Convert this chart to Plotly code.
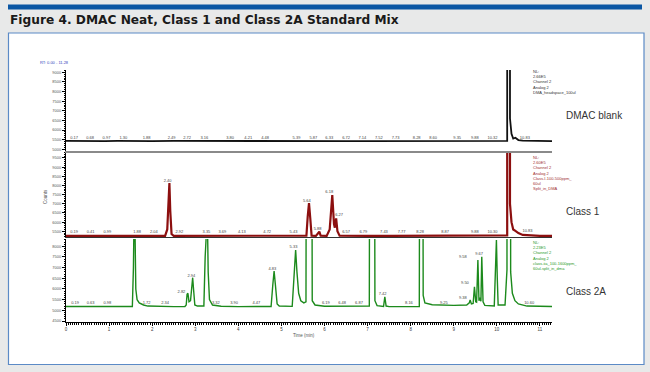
import plotly.graph_objects as go

W, H = 650, 372

# ---------------- data ----------------
# Panel "DMAC blank" trace (time in min, counts)
blank_t = [0.00, 0.30, 0.60, 0.90, 1.20, 1.50, 2.00, 2.50, 3.00, 3.50, 4.00, 4.50, 5.00,
           5.50, 6.00, 6.50, 7.00, 7.50, 8.00, 8.50, 9.00, 9.50, 10.00, 10.24, 10.255,
           10.275, 10.295, 10.305, 10.34, 10.38, 10.43, 10.50, 10.60, 10.80, 11.00, 11.28]
blank_y = [5440, 5430, 5450, 5430, 5440, 5425, 5430, 5435, 5430, 5425, 5430, 5435, 5430,
           5430, 5425, 5430, 5430, 5435, 5430, 5430, 5425, 5430, 5430, 5440, 266000,
           150000, 266000, 6600, 5800, 5560, 5600, 5480, 5450, 5440, 5430, 5430]
blank_lbl_t = [0.19, 0.56, 0.94, 1.33, 1.87, 2.45, 2.81, 3.21, 3.81, 4.23, 4.62, 5.35, 5.74,
               6.11, 6.50, 6.88, 7.26, 7.65, 8.14, 8.52, 9.08, 9.49, 9.90, 10.65]
blank_lbl_y = [5610] * 24
blank_lbl = ["0.17", "0.68", "0.97", "1.30", "1.88", "2.49", "2.72", "3.16", "3.80", "4.21",
             "4.48", "5.39", "5.87", "6.33", "6.72", "7.14", "7.52", "7.73", "8.28", "8.60",
             "9.35", "9.88", "10.32", "10.83"]

# Panel "Class 1" trace
c1_t = [0.00, 0.50, 1.00, 1.50, 2.00, 2.30, 2.35, 2.38, 2.40, 2.42, 2.45, 2.50, 3.00, 3.50,
        4.00, 4.50, 5.00, 5.50, 5.58, 5.61, 5.64, 5.67, 5.70, 5.80, 5.85, 5.88, 5.91, 6.05,
        6.12, 6.15, 6.18, 6.22, 6.24, 6.27, 6.30, 6.35, 6.50, 7.00, 7.50, 8.00, 8.50, 9.00,
        9.50, 10.00, 10.24, 10.255, 10.275, 10.295, 10.305, 10.34, 10.38, 10.43, 10.50,
        10.60, 10.80, 11.00, 11.28]
c1_y = [5250, 5255, 5250, 5250, 5255, 5250, 5600, 7600, 8136, 6600, 5350, 5250, 5255, 5250,
        5250, 5255, 5250, 5255, 5260, 6300, 7045, 6200, 5260, 5250, 5380, 5479, 5260, 5250,
        5600, 6900, 7481, 5900, 5700, 6210, 5500, 5260, 5250, 5255, 5250, 5250, 5255, 5250,
        5255, 5255, 5280, 260000, 150000, 260000, 7000, 6000, 5600, 5520, 5400, 5300, 5260,
        5255, 5250]
c1_lbl_t = [0.19, 0.57, 0.96, 1.65, 2.04, 2.36, 2.63, 3.26, 3.63, 4.08, 4.67, 5.28, 5.59,
            5.84, 6.11, 6.34, 6.50, 6.90, 7.38, 7.79, 8.22, 8.80, 9.49, 9.90, 10.71]
c1_lbl_y = [5463, 5463, 5463, 5463, 5463, 8262, 5463, 5463, 5463, 5463, 5463, 5463, 7171,
            5610, 7629, 6374, 5463, 5463, 5463, 5463, 5463, 5463, 5463, 5463, 5518]
c1_lbl = ["0.19", "0.41", "0.99", "1.88", "2.04", "2.40", "2.92", "3.35", "3.69", "4.13",
          "4.72", "5.43", "5.64", "5.88", "6.18", "6.27", "6.57", "6.79", "7.43", "7.77",
          "8.28", "8.87", "9.88", "10.30", "10.83"]

# Panel "Class 2A" trace
c2_t = [0.00, 0.50, 1.00, 1.50, 1.54, 1.565, 1.58, 1.60, 1.62, 1.65, 1.70, 1.80, 1.90, 2.50,
        2.76, 2.79, 2.81, 2.83, 2.855, 2.89, 2.92, 2.94, 2.96, 2.99, 3.05, 3.20, 3.23, 3.25,
        3.28, 3.30, 3.33, 3.40, 3.60, 4.00, 4.50, 4.76, 4.80, 4.83, 4.86, 4.90, 4.95, 5.25,
        5.29, 5.33, 5.36, 5.40, 5.45, 5.52, 5.57, 5.59, 5.64, 5.69, 5.715, 5.78, 6.00, 6.50,
        7.00, 7.04, 7.06, 7.10, 7.145, 7.17, 7.22, 7.37, 7.40, 7.43, 7.50, 8.00, 8.20, 8.225,
        8.25, 8.27, 8.29, 8.33, 8.50, 9.00, 9.30, 9.36, 9.38, 9.41, 9.45, 9.48, 9.51, 9.53,
        9.56, 9.585, 9.61, 9.63, 9.65, 9.68, 9.72, 9.94, 9.97, 9.99, 10.01, 10.03, 10.19,
        10.22, 10.235, 10.25, 10.27, 10.30, 10.32, 10.36, 10.42, 10.50, 10.70, 11.00, 11.28]
c2_y = [5180, 5175, 5180, 5175, 5180, 7000, 9500, 9000, 6000, 5500, 5350, 5250, 5200, 5175,
        5180, 5250, 5750, 5798, 5400, 5450, 6200, 6529, 6000, 5250, 5200, 5200, 7500, 9500,
        9500, 6800, 5500, 5250, 5190, 5175, 5175, 5180, 6200, 6843, 6200, 5300, 5200, 5185,
        6500, 7827, 6800, 5800, 5450, 5350, 5400, 30000, 15000, 30000, 5450, 5250, 5190, 5180,
        5180, 5200, 30000, 15000, 30000, 5450, 5220, 5180, 5637, 5200, 5175, 5175, 5180, 30000,
        18000, 30000, 5700, 5350, 5260, 5230, 5250, 5350, 5482, 5300, 5320, 6105, 5400, 5380,
        7356, 5450, 5590, 5420, 7512, 5400, 5230, 5200, 7800, 8295, 6500, 5250, 5250,
        6600, 6900, 223000, 120000, 223000, 6800, 5800, 5450, 5300, 5200, 5180, 5180]
c2_lbl_t = [0.21, 0.57, 0.96, 1.87, 2.30, 2.68, 2.91, 3.48, 3.90, 4.42, 4.79, 5.28, 6.03,
            6.41, 6.80, 7.35, 7.96, 8.77, 9.21, 9.26, 9.21, 9.59, 10.75]
c2_lbl_y = [5329, 5329, 5329, 5329, 5329, 5872, 6622, 5329, 5329, 5329, 6922, 7953, 5329,
            5329, 5329, 5750, 5329, 5329, 5591, 6266, 7484, 7639, 5357]
c2_lbl = ["0.19", "0.63", "0.98", "1.72", "2.34", "2.82", "2.94", "3.32", "3.90", "4.47",
          "4.83", "5.33", "6.19", "6.48", "6.87", "7.42", "8.16", "9.25", "9.38", "9.50",
          "9.58", "9.67", "10.60"]

x_ticks = list(range(0, 12))
rt_range = [0.0, 11.28]

# ---------------- helpers ----------------
def px_x(p):
    return p / W

def px_y(p):
    return 1 - p / H

FONT = "Liberation Sans, Arial, sans-serif"

fig = go.Figure()

panels = [
    # (t, y, label t, label y, labels, colour, xaxis, yaxis, width)
    (blank_t, blank_y, blank_lbl_t, blank_lbl_y, blank_lbl, "#111111", "x3", "y3", 1.8),
    (c1_t, c1_y, c1_lbl_t, c1_lbl_y, c1_lbl, "#8c0f0f", "x2", "y2", 2.2),
    (c2_t, c2_y, c2_lbl_t, c2_lbl_y, c2_lbl, "#1c8a1c", "x", "y", 1.4),
]
for t, y, lt, ly, lb, col, xa, ya, lw in panels:
    fig.add_trace(go.Scatter(x=t, y=y, mode="lines", line=dict(color=col, width=lw),
                             xaxis=xa, yaxis=ya, hoverinfo="skip", showlegend=False))
    fig.add_trace(go.Scatter(x=lt, y=ly, mode="text", text=lb,
                             textfont=dict(size=4, color="#444444", family=FONT),
                             textposition="middle center", cliponaxis=False,
                             xaxis=xa, yaxis=ya, hoverinfo="skip", showlegend=False))

xdom = [px_x(66), px_x(552)]
common_x = dict(range=rt_range, domain=xdom, showgrid=False, zeroline=False)
common_y = dict(showgrid=False, zeroline=False, showline=True, linecolor="#000000",
                linewidth=1, ticks="outside", ticklen=3, tickwidth=0.8, tickcolor="#000000",
                dtick=500, tickformat="d",
                tickfont=dict(size=4, color="#555555", family=FONT),
                minor=dict(dtick=100, ticks="outside", ticklen=1.5, tickwidth=0.6,
                           tickcolor="#000000"))

fig.update_layout(
    width=W, height=H,
    margin=dict(l=0, r=0, t=0, b=0),
    paper_bgcolor="#e8e9e9",
    plot_bgcolor="rgba(0,0,0,0)",
    showlegend=False,
    xaxis=dict(**common_x, anchor="y", showline=True, linecolor="#000000", linewidth=1,
               tickvals=x_ticks, ticks="outside", ticklen=3, tickwidth=0.8,
               tickcolor="#000000",
               tickfont=dict(size=4.5, color="#444444", family=FONT),
               minor=dict(dtick=0.05, ticks="outside", ticklen=1.5, tickwidth=0.5,
                          tickcolor="#000000")),
    xaxis2=dict(**common_x, anchor="y2", showline=True, linecolor="#333333", linewidth=1,
                showticklabels=False, ticks=""),
    xaxis3=dict(**common_x, anchor="y3", showline=True, linecolor="#8a8a8a", linewidth=1.6,
                showticklabels=False, ticks=""),
    yaxis=dict(**common_y, domain=[px_y(322), px_y(239)], range=[4453, 8342], anchor="x"),
    yaxis2=dict(**common_y, domain=[px_y(237), px_y(152)], range=[5189, 9827], anchor="x2"),
    yaxis3=dict(**common_y, domain=[px_y(151), px_y(70)], range=[4912, 9119], anchor="x3"),
)

shapes = [
    dict(type="rect", xref="paper", yref="paper", x0=px_x(8), x1=px_x(642),
         y0=px_y(9.5), y1=px_y(4.5), fillcolor="#0b57a4", line=dict(width=0), layer="below"),
    dict(type="rect", xref="paper", yref="paper", x0=px_x(8.5), x1=px_x(644),
         y0=px_y(364.5), y1=px_y(33), fillcolor="#ffffff",
         line=dict(color="#5b8ac6", width=1.2), layer="below"),
]
fig.update_layout(shapes=shapes)

ann = []
ann.append(dict(text="<b>Figure 4. DMAC Neat, Class 1 and Class 2A Standard Mix</b>",
                x=px_x(8), y=px_y(20.5), xref="paper", yref="paper", xanchor="left",
                yanchor="middle", showarrow=False,
                font=dict(family="DejaVu Sans, Verdana, sans-serif", size=12.2,
                          color="#1a1a1a")))
ann.append(dict(text="RT: 0.00 - 11.28", x=px_x(38), y=px_y(63), xref="paper", yref="paper",
                xanchor="left", yanchor="middle", showarrow=False,
                font=dict(family=FONT, size=4, color="#3344bb")))
ann.append(dict(text="Counts", x=px_x(45), y=px_y(197), xref="paper", yref="paper",
                textangle=-90, xanchor="center", yanchor="middle", showarrow=False,
                font=dict(family=FONT, size=4.5, color="#555555")))
ann.append(dict(text="Time (min)", x=px_x(304), y=px_y(335), xref="paper", yref="paper",
                xanchor="center", yanchor="middle", showarrow=False,
                font=dict(family=FONT, size=4.5, color="#555555")))
nl_blocks = [
    ("NL:<br>2.66E5<br>Channel 2<br>Analog 2<br>DMA_headspace_100ul", 67, "#333333"),
    ("NL:<br>2.60E5<br>Channel 2<br>Analog 2<br>Class-I-100-500ppm_<br>60ul<br>Split_in_DMA",
     152.5, "#a03030"),
    ("NL:<br>2.23E5<br>Channel 2<br>Analog 2<br>class-iia_100-1600ppm_<br>60ul-split_in_dma",
     237.5, "#2a9a2a"),
]
for txt, ytop, col in nl_blocks:
    ann.append(dict(text=txt, x=px_x(530.5), y=px_y(ytop), xref="paper", yref="paper",
                    xanchor="left", yanchor="top", align="left", showarrow=False,
                    font=dict(family=FONT, size=4, color=col)))
for txt, yc in [("DMAC blank", 115.5), ("Class 1", 211), ("Class 2A", 291.5)]:
    ann.append(dict(text=txt, x=px_x(563.5), y=px_y(yc), xref="paper", yref="paper",
                    xanchor="left", yanchor="middle", showarrow=False,
                    font=dict(family=FONT, size=10, color="#333333")))
fig.update_layout(annotations=ann)

fig.write_html("out.html",
               config={"displayModeBar": False},
               post_script="document.body.style.margin='0';"
                           "document.body.style.background='#e8e9e9';")
